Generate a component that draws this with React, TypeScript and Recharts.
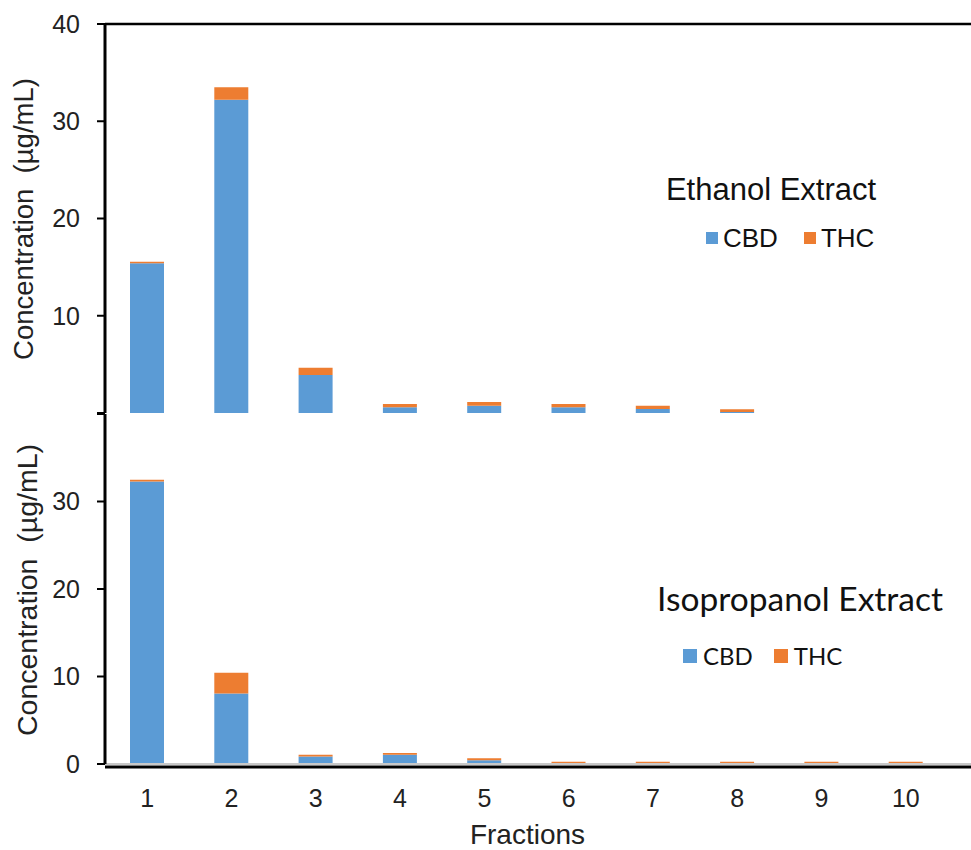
import React from "react";
import {
  BarChart,
  Bar,
  XAxis,
  YAxis,
  ReferenceLine,
  Legend,
} from "recharts";

const fractions = ["1", "2", "3", "4", "5", "6", "7", "8", "9", "10"];

// Ethanol extract (upper panel)
const ethanolCBD = [15.4, 32.2, 3.9, 0.58, 0.75, 0.58, 0.4, 0.1, 0, 0];
const ethanolTHC = [0.15, 1.3, 0.75, 0.34, 0.38, 0.34, 0.35, 0.28, 0, 0];

// Isopropanol extract (lower panel)
const isoCBD = [32.3, 8.07, 0.87, 1.07, 0.42, 0, 0, 0, 0, 0];
const isoTHC = [0.2, 2.35, 0.2, 0.2, 0.23, 0.25, 0.25, 0.25, 0.25, 0.25];

const yTicks = [0, 10, 20, 30, 40];

const ethanolData = fractions.map((f, i) => ({
  fraction: f,
  CBD: ethanolCBD[i],
  THC: ethanolTHC[i],
}));
const isoData = fractions.map((f, i) => ({
  fraction: f,
  CBD: isoCBD[i],
  THC: isoTHC[i],
}));

const ARIAL = "'Liberation Sans', Arial, sans-serif";
const CALIBRI = "Lato, 'Open Sans', sans-serif";
const BLUE = "#5B9BD5";
const ORANGE = "#ED7D31";
const TEXT = "#222";

const yAxisProps = {
  width: 105,
  domain: [0, 40] as [number, number],
  ticks: yTicks,
  interval: 0 as const,
  axisLine: { stroke: "#000", strokeWidth: 3 },
  tickLine: { stroke: "#000", strokeWidth: 2 },
  tickSize: 8,
  tickMargin: 17,
  tick: { fill: TEXT, fontSize: 25, fontFamily: ARIAL },
};

const yTitle = (x: number, y: number, size: number) => () => (
  <text
    x={x}
    y={y}
    transform={`rotate(-90, ${x}, ${y})`}
    textAnchor="middle"
    fontSize={size}
    fontFamily={ARIAL}
    fill={TEXT}
    style={{ whiteSpace: "pre" }}
  >
    Concentration{"\u00a0\u00a0"}(µg/mL)
  </text>
);

const makeLegend =
  (opts: {
    title: string;
    font: string;
    titleSize: number;
    titleTop: number;
    titleCenter: number;
    rowTop: number;
    rowLeft: number;
    rowSize: number;
    square: number;
    squareGap: number;
    itemGap: number;
  }) =>
  ({ payload }: any) =>
    (
      <div style={{ fontFamily: opts.font, color: "#111" }}>
        <div
          style={{
            position: "absolute",
            left: opts.titleCenter - 200,
            top: opts.titleTop,
            width: 400,
            textAlign: "center",
            fontSize: opts.titleSize,
            lineHeight: `${opts.titleSize}px`,
            whiteSpace: "nowrap",
          }}
        >
          {opts.title}
        </div>
        <div
          style={{
            position: "absolute",
            left: opts.rowLeft,
            top: opts.rowTop,
            height: opts.rowSize,
            display: "flex",
            alignItems: "center",
            fontSize: opts.rowSize,
            lineHeight: `${opts.rowSize}px`,
            whiteSpace: "nowrap",
          }}
        >
          {(payload || []).map((entry: any, index: number) => (
            <span
              key={index}
              style={{
                display: "flex",
                alignItems: "center",
                marginRight: index === 0 ? opts.itemGap : 0,
              }}
            >
              <span
                style={{
                  display: "inline-block",
                  width: opts.square,
                  height: opts.square,
                  background: entry.color,
                  marginRight: opts.squareGap,
                }}
              />
              {entry.value}
            </span>
          ))}
        </div>
      </div>
    );

const EthanolLegend = makeLegend({
  title: "Ethanol Extract",
  font: ARIAL,
  titleSize: 31,
  titleTop: 174,
  titleCenter: 771,
  rowTop: 225,
  rowLeft: 706,
  rowSize: 26,
  square: 12,
  squareGap: 5,
  itemGap: 26,
});

const IsoLegend = makeLegend({
  title: "Isopropanol Extract",
  font: CALIBRI,
  titleSize: 33.5,
  titleTop: 169,
  titleCenter: 800,
  rowTop: 231,
  rowLeft: 683,
  rowSize: 24,
  square: 14,
  squareGap: 6,
  itemGap: 21,
});

const legendWrapper = {
  position: "absolute" as const,
  left: 0,
  top: 0,
  width: 971,
  height: 0,
};

export default function App() {
  return (
    <div
      style={{
        position: "absolute",
        left: 0,
        top: 0,
        width: 971,
        height: 850,
        background: "#fff",
        overflow: "hidden",
      }}
    >
      {/* upper panel */}
      <div style={{ position: "absolute", left: 0, top: 0 }}>
        <BarChart
          width={971}
          height={414}
          data={ethanolData}
          margin={{ top: 24, right: 0, bottom: 1, left: 0 }}
          barSize={34}
        >
          <XAxis dataKey="fraction" hide padding={{ left: 0, right: 23 }} />
          <YAxis
            {...yAxisProps}
            tickFormatter={(v: number) => (v === 0 ? "" : String(v))}
            label={{ content: yTitle(33, 219, 27.5) }}
          />
          <ReferenceLine y={40} stroke="#000" strokeWidth={2.5} />
          <Bar dataKey="CBD" stackId="a" fill={BLUE} isAnimationActive={false} />
          <Bar dataKey="THC" stackId="a" fill={ORANGE} isAnimationActive={false} />
          <Legend
            layout="horizontal"
            verticalAlign="middle"
            align="center"
            wrapperStyle={legendWrapper}
            content={EthanolLegend}
          />
        </BarChart>
      </div>

      {/* lower panel */}
      <div style={{ position: "absolute", left: 0, top: 413 }}>
        <BarChart
          width={971}
          height={437}
          data={isoData}
          margin={{ top: 1, right: 0, bottom: 0, left: 0 }}
          barSize={34}
        >
          <XAxis
            dataKey="fraction"
            height={86}
            padding={{ left: 0, right: 23 }}
            interval={0}
            axisLine={{
              stroke: "#000",
              strokeWidth: 3,
              transform: "translate(0, 3)",
            }}
            tickLine={false}
            tickSize={0}
            tickMargin={25}
            tick={{ fill: TEXT, fontSize: 25, fontFamily: ARIAL }}
            label={{
              content: () => (
                <text
                  x={527.5}
                  y={431}
                  textAnchor="middle"
                  fontSize={28}
                  fontFamily={ARIAL}
                  fill={TEXT}
                >
                  Fractions
                </text>
              ),
            }}
          />
          <YAxis
            {...yAxisProps}
            tickFormatter={(v: number) => (v === 40 ? "" : String(v))}
            label={{ content: yTitle(37, 177, 28.5) }}
          />
          <ReferenceLine y={0} stroke="#c8c8c8" strokeWidth={2} />
          <Bar dataKey="CBD" stackId="a" fill={BLUE} isAnimationActive={false} />
          <Bar dataKey="THC" stackId="a" fill={ORANGE} isAnimationActive={false} />
          <Legend
            layout="horizontal"
            verticalAlign="middle"
            align="center"
            wrapperStyle={legendWrapper}
            content={IsoLegend}
          />
        </BarChart>
      </div>
    </div>
  );
}
